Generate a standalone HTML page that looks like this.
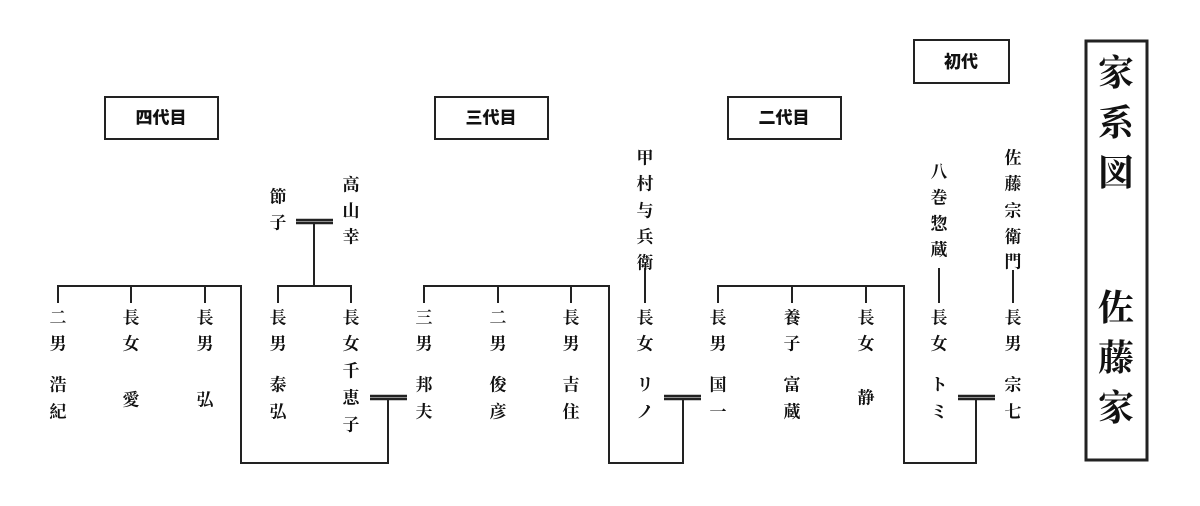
<!DOCTYPE html>
<html><head><meta charset="utf-8"><style>
html,body{margin:0;padding:0;background:#fff;width:1200px;height:506px;overflow:hidden}
svg text{font-family:"Liberation Serif","Noto Serif CJK SC","Noto Sans CJK JP",serif;font-weight:bold;fill:#111;text-anchor:middle;dominant-baseline:central}
svg text.s{font-family:"Liberation Sans","Noto Sans CJK JP",sans-serif;font-size:17px;font-weight:900}
</style></head><body>
<svg width="1200" height="506" xmlns="http://www.w3.org/2000/svg">
<g fill="none" stroke="#222" stroke-width="2">
<rect x="105" y="97" width="113" height="42"/>
<rect x="435" y="97" width="113" height="42"/>
<rect x="728" y="97" width="113" height="42"/>
<rect x="914" y="40" width="95" height="43"/>
<rect x="1086" y="41" width="61" height="419" stroke-width="3"/>
<polyline points="58,303 58,286 241,286 241,463 388,463 388,398"/>
<line x1="131" y1="286" x2="131" y2="303"/><line x1="205" y1="286" x2="205" y2="303"/>
<polyline points="278,303 278,286 351,286 351,303"/>
<line x1="314" y1="286" x2="314" y2="222"/>
<polyline points="424,303 424,286 609,286 609,463 683,463 683,398"/>
<line x1="498" y1="286" x2="498" y2="303"/><line x1="571" y1="286" x2="571" y2="303"/>
<line x1="645" y1="268" x2="645" y2="303"/>
<polyline points="718,303 718,286 904,286 904,463 976,463 976,398"/>
<line x1="792" y1="286" x2="792" y2="303"/><line x1="866" y1="286" x2="866" y2="303"/>
<line x1="939" y1="268" x2="939" y2="303"/>
<line x1="1013" y1="270" x2="1013" y2="303"/>
</g>
<g fill="none" stroke="#222" stroke-width="2.5">
<line x1="370" y1="396" x2="407" y2="396"/><line x1="370" y1="399" x2="407" y2="399"/>
<line x1="296" y1="220" x2="333" y2="220"/><line x1="296" y1="223" x2="333" y2="223"/>
<line x1="664" y1="396" x2="701" y2="396"/><line x1="664" y1="399" x2="701" y2="399"/>
<line x1="958" y1="396" x2="995" y2="396"/><line x1="958" y1="399" x2="995" y2="399"/>
</g>
<text class="s" x="161" y="118">四代目</text>
<text class="s" x="491" y="118">三代目</text>
<text class="s" x="784" y="118">二代目</text>
<text class="s" x="961" y="62">初代</text>
<g style="font-size:36px;font-weight:900">
<text x="1116" y="73">家</text><text x="1116" y="123">系</text><text x="1116" y="173">図</text>
<text x="1116" y="308">佐</text><text x="1116" y="358">藤</text><text x="1116" y="408">家</text>
</g>
<g style="font-size:17px">
<text x="58" y="318">二</text><text x="58" y="344">男</text>
<text x="131" y="318">長</text><text x="131" y="344">女</text>
<text x="205" y="318">長</text><text x="205" y="344">男</text>
<text x="278" y="318">長</text><text x="278" y="344">男</text>
<text x="351" y="318">長</text><text x="351" y="344">女</text>
<text x="424" y="318">三</text><text x="424" y="344">男</text>
<text x="498" y="318">二</text><text x="498" y="344">男</text>
<text x="571" y="318">長</text><text x="571" y="344">男</text>
<text x="645" y="318">長</text><text x="645" y="344">女</text>
<text x="718" y="318">長</text><text x="718" y="344">男</text>
<text x="792" y="318">養</text><text x="792" y="344">子</text>
<text x="866" y="318">長</text><text x="866" y="344">女</text>
<text x="939" y="318">長</text><text x="939" y="344">女</text>
<text x="1013" y="318">長</text><text x="1013" y="344">男</text>
<text x="58" y="385">浩</text><text x="58" y="412">紀</text>
<text x="131" y="400">愛</text>
<text x="205" y="400">弘</text>
<text x="278" y="385">泰</text><text x="278" y="412">弘</text>
<text x="351" y="371">千</text><text x="351" y="398">恵</text><text x="351" y="425">子</text>
<text x="424" y="385">邦</text><text x="424" y="412">夫</text>
<text x="498" y="385">俊</text><text x="498" y="412">彦</text>
<text x="571" y="385">吉</text><text x="571" y="412">住</text>
<text x="645" y="385">リ</text><text x="645" y="412">ノ</text>
<text x="718" y="385">国</text><text x="718" y="412">一</text>
<text x="792" y="385">富</text><text x="792" y="412">蔵</text>
<text x="866" y="398">静</text>
<text x="939" y="385">ト</text><text x="939" y="412">ミ</text>
<text x="1013" y="385">宗</text><text x="1013" y="412">七</text>
<text x="278" y="197">節</text><text x="278" y="223">子</text>
<text x="351" y="185">高</text><text x="351" y="211">山</text><text x="351" y="237">幸</text>
<text x="645" y="158">甲</text><text x="645" y="184">村</text><text x="645" y="211">与</text><text x="645" y="237">兵</text><text x="645" y="263">衛</text>
<text x="939" y="172">八</text><text x="939" y="198">巻</text><text x="939" y="224">惣</text><text x="939" y="250">蔵</text>
<text x="1013" y="158">佐</text><text x="1013" y="184">藤</text><text x="1013" y="211">宗</text><text x="1013" y="237">衛</text><text x="1013" y="262">門</text>
</g>
</svg>
</body></html>
